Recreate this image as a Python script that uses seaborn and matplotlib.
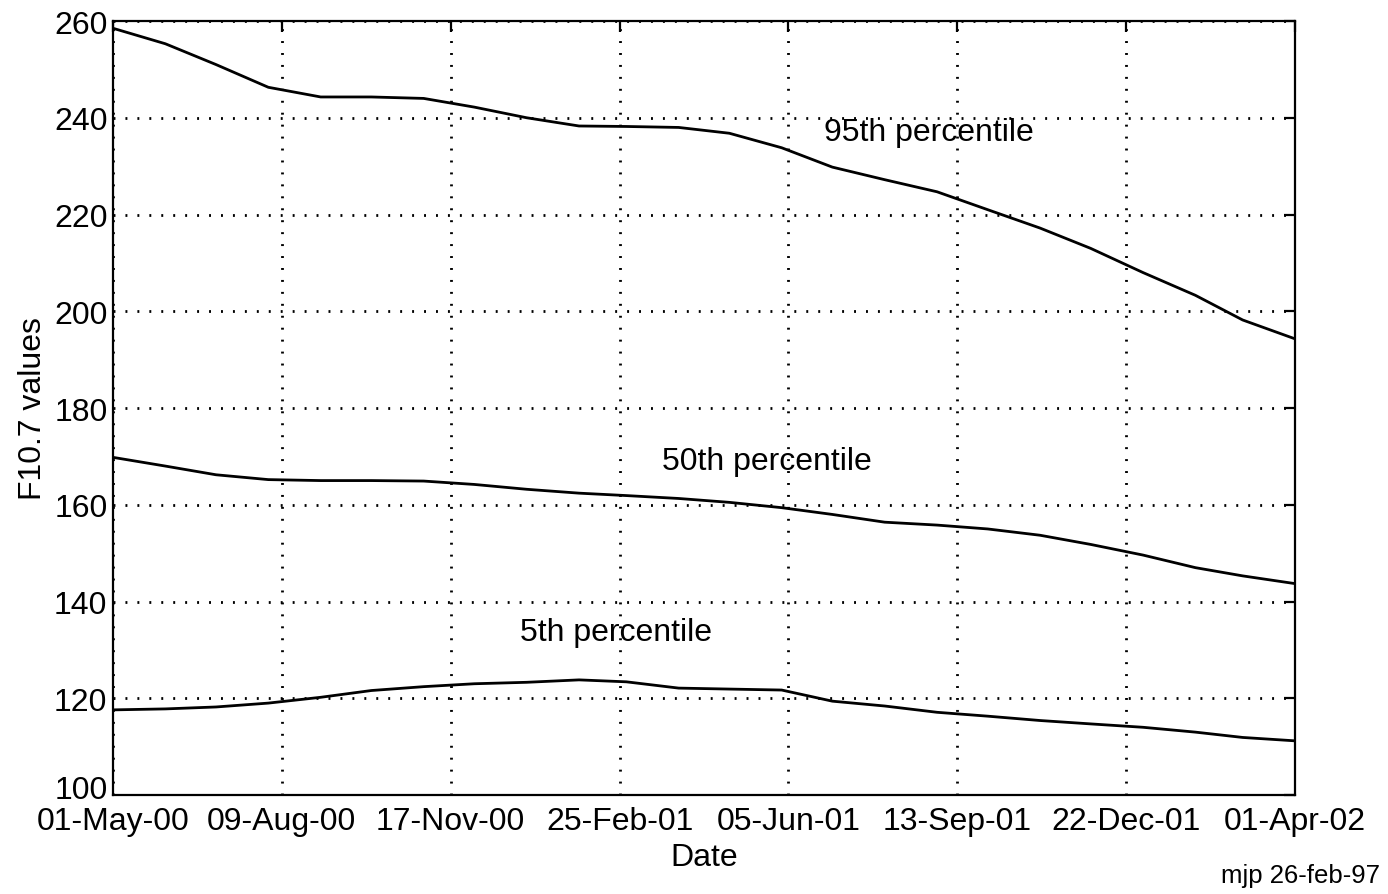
import matplotlib
matplotlib.use("Agg")
import matplotlib.pyplot as plt
import matplotlib.dates as mdates
import matplotlib.transforms as mtransforms
import numpy as np
import pandas as pd
import seaborn as sns

# Monthly sample dates of the F10.7 forecast
dates = pd.to_datetime([
    "2000-05-01", "2000-06-01", "2000-07-01", "2000-08-01", "2000-09-01", "2000-10-01",
    "2000-11-01", "2000-12-01", "2001-01-01", "2001-02-01", "2001-03-01", "2001-04-01",
    "2001-05-01", "2001-06-01", "2001-07-01", "2001-08-01", "2001-09-01", "2001-10-01",
    "2001-11-01", "2001-12-01", "2002-01-01", "2002-02-01", "2002-03-01", "2002-04-01",
])

p95 = [258.5, 255.3, 251.0, 246.3, 244.3, 244.3, 244.0, 242.2, 240.0, 238.3, 238.2, 238.0,
       236.8, 233.8, 229.8, 227.2, 224.7, 221.0, 217.2, 213.0, 208.0, 203.3, 198.2, 194.3]
p50 = [169.8, 168.0, 166.2, 165.2, 165.0, 165.0, 164.9, 164.2, 163.2, 162.4, 161.9, 161.3,
       160.5, 159.4, 158.0, 156.4, 155.8, 155.0, 153.7, 151.8, 149.6, 147.0, 145.3, 143.7]
p05 = [117.6, 117.8, 118.2, 119.0, 120.2, 121.6, 122.4, 123.0, 123.3, 123.8, 123.4, 122.1,
       121.9, 121.7, 119.4, 118.4, 117.1, 116.3, 115.4, 114.7, 114.0, 113.0, 111.9, 111.2]

series_names = ["95th percentile", "50th percentile", "5th percentile"]

# Axis ticks: every 100 days from the start date
tick_dates = pd.date_range("2000-05-01", periods=8, freq="100D")
y_ticks = [100, 120, 140, 160, 180, 200, 220, 240, 260]

# Curve labels: (start date, value)
label_pos = {
    "95th percentile": ("2001-06-26", 237.0),
    "50th percentile": ("2001-03-22", 169.0),
    "5th percentile": ("2000-12-28", 133.6),
}

df = pd.concat([
    pd.DataFrame({"Date": dates, "F10.7": vals, "series": name})
    for name, vals in zip(series_names, [p95, p50, p05])
])

sns.set_theme(style="white")
plt.rcParams["font.family"] = ["Liberation Sans", "DejaVu Sans"]
plt.rcParams["axes.edgecolor"] = "black"

fig = plt.figure(figsize=(13.88, 8.95), dpi=100)
ax = fig.add_axes([0.0814, 0.1106, 0.8516, 0.8648])

sns.lineplot(data=df, x="Date", y="F10.7", hue="series", units="series",
             estimator=None, palette=["black"] * 3, legend=False,
             linewidth=2.0, ax=ax, zorder=3)

ax.set_xlim(tick_dates[0], tick_dates[-1])
ax.set_ylim(100, 260)
ax.set_xticks(tick_dates)
ax.set_yticks(y_ticks)
ax.xaxis.set_major_formatter(mdates.DateFormatter("%d-%b-%y"))

ax.grid(True, color="black", linestyle=(0, (0.7, 3.6)), linewidth=2.0, zorder=1)

for s in ax.spines.values():
    s.set_linewidth(1.6)
    s.set_color("black")

ax.tick_params(axis="both", which="major", direction="in", length=8, width=1.6,
               labelsize=23, colors="black", top=True, right=True)
ax.tick_params(axis="x", pad=8)
ax.tick_params(axis="y", pad=4)

# nudge the lowest y label up slightly, just clear of the date labels
low = ax.get_yticklabels()[0]
low.set_transform(low.get_transform() +
                  mtransforms.ScaledTranslation(0, 6 / 72, fig.dpi_scale_trans))

ax.set_xlabel("Date", fontsize=23, color="black", labelpad=4)
ax.set_ylabel("F10.7 values", fontsize=23, color="black", labelpad=4)

for name, (d, v) in label_pos.items():
    ax.text(pd.Timestamp(d), v, name, fontsize=23, color="black", ha="left", va="center")

fig.text(1380 / 1388, 1 - 876 / 895, "mjp 26-feb-97", fontsize=18.5, color="black",
         ha="right", va="center")

fig.savefig("out.png", dpi=100, facecolor="white")
